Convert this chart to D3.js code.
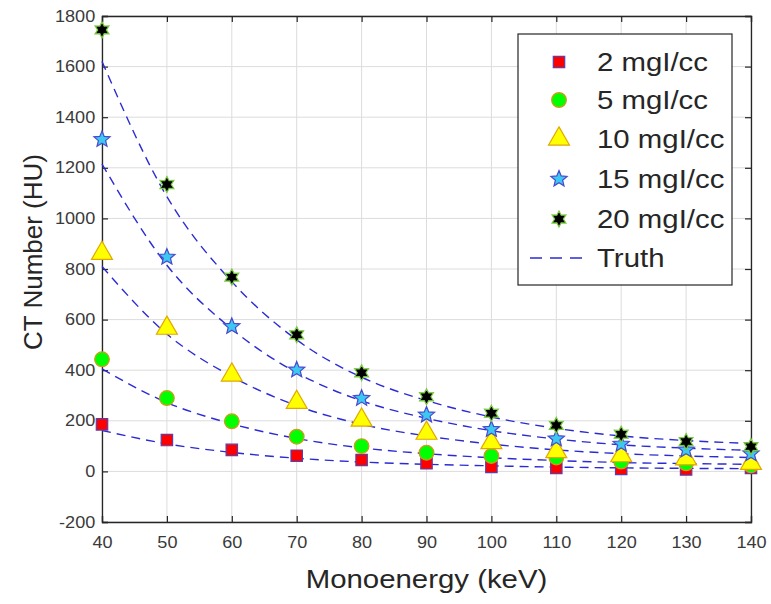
<!DOCTYPE html>
<html>
<head>
<meta charset="utf-8">
<script src="https://cdn.jsdelivr.net/npm/d3@7/dist/d3.min.js"></script>
<style>
  html, body { margin: 0; padding: 0; background: #fff; }
  svg { display: block; font-family: "Liberation Sans", Arial, sans-serif; }
</style>
</head>
<body>
<svg id="chart" width="771" height="604"></svg>
<script>
const energies = [40, 50, 60, 70, 80, 90, 100, 110, 120, 130, 140];
const xTicks = [40, 50, 60, 70, 80, 90, 100, 110, 120, 130, 140];
const yTicks = [-200, 0, 200, 400, 600, 800, 1000, 1200, 1400, 1600, 1800];

const seriesNames = ["2 mgI/cc", "5 mgI/cc", "10 mgI/cc", "15 mgI/cc", "20 mgI/cc"];
const measured2  = [186, 124, 85, 62, 45, 32, 18, 14, 10, 8, 14];
const measured5  = [443, 290, 198, 137, 100, 74, 61, 55, 39, 32, 24];
const measured10 = [862, 566, 381, 273, 203, 151, 114, 78, 62, 50, 32];
const measured15 = [1312, 847, 573, 401, 289, 223, 166, 129, 108, 85, 70];
const measured20 = [1745, 1134, 768, 540, 390, 295, 230, 182, 147, 118, 98];

const truth2  = [162, 109, 75, 52, 37, 28, 22, 17, 14, 12, 11];
const truth5  = [405, 272, 188, 130, 93, 70, 54, 43, 35, 31, 28];
const truth10 = [810, 543, 375, 260, 186, 140, 108, 85, 70, 61, 55];
const truth15 = [1215, 815, 563, 390, 279, 210, 161, 128, 105, 92, 83];
const truth20 = [1620, 1086, 750, 520, 372, 280, 215, 170, 140, 122, 110];

const measured = [measured2, measured5, measured10, measured15, measured20];
const truths = [truth2, truth5, truth10, truth15, truth20];

const styles = [
  { sym: d3.symbolSquare,   size: 130, fill: "#ff0000", stroke: "#5b3fa8" },
  { sym: d3.symbolCircle,   size: 170, fill: "#00ff00", stroke: "#d69a1a" },
  { sym: d3.symbolTriangle, size: 190, fill: "#ffff00", stroke: "#e0a800" },
  { sym: "penta",           size: 8,   fill: "#3cc8f0", stroke: "#4a4acd" },
  { sym: "hexa",            size: 8,   fill: "#000000", stroke: "#7ac943" }
];

const SX = 1.13; // horizontal text stretch seen in the reference
const svg = d3.select("#chart");
const m = { left: 102, right: 751, top: 16, bottom: 522 };
const x = d3.scaleLinear().domain([40, 140]).range([m.left, m.right]);
const y = d3.scaleLinear().domain([-200, 1800]).range([m.bottom, m.top]);

// grid
const g = svg.append("g");
g.selectAll(".vg").data(xTicks).enter().append("line")
  .attr("x1", d => x(d)).attr("x2", d => x(d))
  .attr("y1", m.top).attr("y2", m.bottom)
  .attr("stroke", "#dcdcdc").attr("stroke-width", 1);
g.selectAll(".hg").data(yTicks).enter().append("line")
  .attr("x1", m.left).attr("x2", m.right)
  .attr("y1", d => y(d)).attr("y2", d => y(d))
  .attr("stroke", "#dcdcdc").attr("stroke-width", 1);

// axes
const tickColor = "#3a3a3a";
const fmt = d => String(d);
const xAxisB = d3.axisBottom(x).tickValues(xTicks).tickSize(-6).tickPadding(15).tickFormat(fmt);
const xAxisT = d3.axisTop(x).tickValues(xTicks).tickSize(-6).tickFormat("");
const yAxisL = d3.axisLeft(y).tickValues(yTicks).tickSize(-6).tickPadding(6).tickFormat(fmt);
const yAxisR = d3.axisRight(y).tickValues(yTicks).tickSize(-6).tickFormat("");

function styleAxis(sel) {
  sel.select(".domain").attr("stroke", "#262626").attr("stroke-width", 1.3);
  sel.selectAll(".tick line").attr("stroke", "#262626").attr("stroke-width", 1.2);
  sel.selectAll(".tick text").attr("fill", tickColor).style("font-size", "16px")
    .style("font-family", "'Liberation Sans', Arial, sans-serif")
    .attr("transform", `scale(${SX},1)`);
}
svg.append("g").attr("transform", `translate(0,${m.bottom})`).call(xAxisB).call(styleAxis);
svg.append("g").attr("transform", `translate(0,${m.top})`).call(xAxisT).call(styleAxis);
svg.append("g").attr("transform", `translate(${m.left},0)`).call(yAxisL).call(styleAxis);
svg.append("g").attr("transform", `translate(${m.right},0)`).call(yAxisR).call(styleAxis);

// star path helper
function starPath(points, outer, inner) {
  let p = [];
  for (let i = 0; i < points * 2; i++) {
    const r = i % 2 === 0 ? outer : inner;
    const a = -Math.PI / 2 + i * Math.PI / points;
    p.push([r * Math.cos(a), r * Math.sin(a)]);
  }
  return "M" + p.map(q => q[0].toFixed(2) + "," + q[1].toFixed(2)).join("L") + "Z";
}
function markerPath(s) {
  if (s.sym === "penta") return starPath(5, 8.5, 3.8);
  if (s.sym === "hexa") return starPath(6, 8, 4.4);
  return d3.symbol().type(s.sym).size(s.size)();
}

// truth lines
const line = d3.line().x((d, i) => x(energies[i])).y(d => y(d)).curve(d3.curveMonotoneX);
truths.forEach(t => {
  svg.append("path").datum(t).attr("d", line)
    .attr("fill", "none").attr("stroke", "#2b2bd6").attr("stroke-width", 1.4)
    .attr("stroke-dasharray", "9,6");
});

// markers
measured.forEach((vals, si) => {
  const s = styles[si];
  const p = markerPath(s);
  svg.append("g").selectAll("path").data(vals).enter().append("path")
    .attr("d", p)
    .attr("transform", (d, i) => `translate(${x(energies[i])},${y(d)})`)
    .attr("fill", s.fill).attr("stroke", s.stroke).attr("stroke-width", 1.2);
});

// labels
svg.append("text").attr("transform", `translate(${x(90)},588) scale(${SX},1)`).attr("text-anchor", "middle")
  .style("font-size", "26px").attr("fill", "#262626").text("Monoenergy (keV)");
svg.append("text").attr("transform", "translate(42,252) rotate(-90)").attr("text-anchor", "middle")
  .style("font-size", "26px").attr("fill", "#262626").text("CT Number (HU)");

// legend
const lg = svg.append("g");
lg.append("rect").attr("x", 518).attr("y", 34).attr("width", 214).attr("height", 251)
  .attr("fill", "#fff").attr("stroke", "#262626").attr("stroke-width", 1.2);
const rowY = [62, 100, 139, 179, 219, 258];
seriesNames.forEach((name, i) => {
  const s = styles[i];
  lg.append("path").attr("d", markerPath(s))
    .attr("transform", `translate(559,${rowY[i]})`)
    .attr("fill", s.fill).attr("stroke", s.stroke).attr("stroke-width", 1.2);
  lg.append("text").attr("transform", `translate(597,${rowY[i] + 9}) scale(${SX},1)`)
    .style("font-size", "26px").attr("fill", "#262626").text(name);
});
lg.append("line").attr("x1", 530).attr("x2", 590).attr("y1", rowY[5]).attr("y2", rowY[5])
  .attr("stroke", "#2b2bd6").attr("stroke-width", 1.4).attr("stroke-dasharray", "12,8");
lg.append("text").attr("transform", `translate(597,${rowY[5] + 9}) scale(${SX},1)`)
  .style("font-size", "26px").attr("fill", "#262626").text("Truth");
</script>
</body>
</html>
